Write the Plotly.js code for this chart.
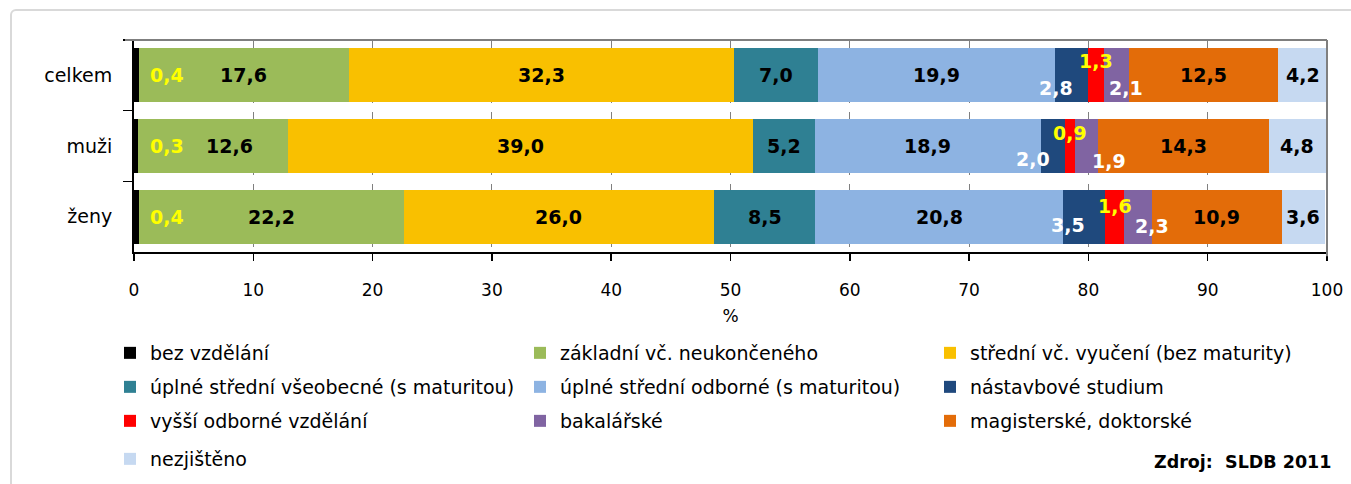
<!DOCTYPE html>
<html>
<head>
<meta charset="utf-8">
<script src="https://cdn.plot.ly/plotly-3.0.1.min.js"></script>
<style>
html,body{margin:0;background:#fff;overflow:hidden;}
#chart{position:absolute;left:0;top:0;width:1351px;height:520px;}
#frame{position:absolute;left:10px;top:9px;width:1400px;height:520px;border:2px solid #d9d9d9;border-radius:6px;pointer-events:none;}
</style>
</head>
<body>
<div id="chart"></div>
<div id="frame"></div>
<script>
// ---- data ----
const categories = ['celkem', 'muži', 'ženy'];
const seriesNames = [
  'bez vzdělání',
  'základní vč. neukončeného',
  'střední vč. vyučení (bez maturity)',
  'úplné střední všeobecné (s maturitou)',
  'úplné střední odborné (s maturitou)',
  'nástavbové studium',
  'vyšší odborné vzdělání',
  'bakalářské',
  'magisterské, doktorské',
  'nezjištěno'
];
const bezVzdelani   = [0.4, 0.3, 0.4];
const zakladni      = [17.6, 12.6, 22.2];
const stredniVyuc   = [32.3, 39.0, 26.0];
const uplneVseob    = [7.0, 5.2, 8.5];
const uplneOdborne  = [19.9, 18.9, 20.8];
const nastavbove    = [2.8, 2.0, 3.5];
const vyssiOdborne  = [1.3, 0.9, 1.6];
const bakalarske    = [2.1, 1.9, 2.3];
const magisterske   = [12.5, 14.3, 10.9];
const nezjisteno    = [4.2, 4.8, 3.6];
const xTicks = [0, 10, 20, 30, 40, 50, 60, 70, 80, 90, 100];
const sourceText = 'Zdroj:\u00a0 SLDB 2011';

const seriesValues = [bezVzdelani, zakladni, stredniVyuc, uplneVseob, uplneOdborne,
                      nastavbove, vyssiOdborne, bakalarske, magisterske, nezjisteno];

// ---- styles ----
const colors = ['#000000', '#9bbb59', '#f9c000', '#2f8093', '#8db3e2',
                '#1f497d', '#ff0000', '#8064a2', '#e36c09', '#c6d9f1'];
const labelColors = ['#ffff00', '#000000', '#000000', '#000000', '#000000',
                     '#ffffff', '#ffff00', '#ffffff', '#000000', '#000000'];
// label pixel offsets per series, per row
const labelDx = [[31,31,31],[0,17,0],[0,0,0],[0,0,0],[0,0,0],
                 [-16,-20,-16],[0,0,0],[10,22,14],[0,0,0],[0,0,0]];
const labelDy = [[0,0,0],[0,0,0],[0,0,0],[0,0,0],[0,0,0],
                 [-13,-13,-8],[14,13,11],[-13,-15,-9],[0,0,0],[0,0,0]];
const legendOf = ['legend','legend','legend','legend2','legend2','legend2',
                  'legend3','legend3','legend3','legend4'];

const FONT = 'DejaVu Sans, Verdana, sans-serif';

const traces = seriesNames.map((name, i) => ({
  type: 'bar',
  orientation: 'h',
  name: name,
  y: categories,
  x: seriesValues[i],
  marker: {color: colors[i], line: {width: 0}},
  legend: legendOf[i],
  hoverinfo: 'none'
}));

const plotW = 1193, plotH = 212, axisY = 252;

// value labels
const annotations = [];
categories.forEach((cat, r) => {
  let start = 0;
  seriesValues.forEach((vals, i) => {
    const v = vals[r];
    annotations.push({
      x: start + v / 2, y: cat, xref: 'x', yref: 'y',
      text: v.toFixed(1).replace('.', ','),
      showarrow: false,
      xshift: labelDx[i][r], yshift: labelDy[i][r],
      font: {family: FONT, size: 19, color: labelColors[i], weight: 'bold'}
    });
    start += v;
  });
});
annotations.push({
  xref: 'paper', yref: 'paper', x: 1.005, y: (axisY - 462) / plotH, xanchor: 'right', yanchor: 'middle',
  text: sourceText, showarrow: false,
  font: {family: FONT, size: 17.5, color: '#000', weight: 'bold'}
});

function legendCfg(ypx, xpx) {
  return {
    orientation: 'h', xanchor: 'left', yanchor: 'middle',
    x: (xpx - 134) / plotW, y: (axisY - ypx) / plotH,
    entrywidth: 365, entrywidthmode: 'pixels',
    font: {family: FONT, size: 19, color: '#000'},
    bgcolor: 'rgba(0,0,0,0)', traceorder: 'normal', itemclick: false
  };
}

const layout = {
  width: 1351, height: 520,
  margin: {l: 134, r: 24, t: 40, b: 520 - axisY, pad: 0},
  paper_bgcolor: 'rgba(0,0,0,0)', plot_bgcolor: 'rgba(0,0,0,0)',
  barmode: 'stack', bargap: 0.235,
  showlegend: true,
  legend: legendCfg(353, 110),
  legend2: legendCfg(387, 110),
  legend3: legendCfg(421, 110),
  legend4: legendCfg(459, 110),
  xaxis: {
    range: [0, 100], tickvals: xTicks, ticktext: xTicks.map(String),
    showgrid: true, gridcolor: '#808080', gridwidth: 1, griddash: 'dash',
    zeroline: false, showline: true, linecolor: '#000', linewidth: 1.5,
    ticks: 'outside', ticklen: 7, tickcolor: '#000', tickwidth: 1.5,
    ticklabelstandoff: 15,
    tickfont: {family: FONT, size: 17, color: '#000'},
    title: {text: '%', font: {family: FONT, size: 17, color: '#000'}, standoff: 11},
    fixedrange: true
  },
  yaxis: {
    type: 'category', categoryorder: 'array', categoryarray: categories,
    autorange: 'reversed',
    showgrid: false, zeroline: false, showline: true, linecolor: '#000', linewidth: 2,
    ticks: 'outside', tickson: 'boundaries', ticklen: 9, tickcolor: '#000', tickwidth: 1.5,
    ticklabelstandoff: 16,
    tickfont: {family: FONT, size: 19, color: '#000'},
    fixedrange: true
  },
  shapes: [
    {type: 'line', xref: 'paper', yref: 'paper', x0: -9 / plotW, x1: 1, y0: 1, y1: 1,
     line: {color: '#7f7f7f', width: 2}},
    {type: 'line', xref: 'paper', yref: 'paper', x0: 1, x1: 1, y0: -0.02, y1: 1,
     line: {color: '#7f7f7f', width: 2}}
  ],
  annotations: annotations
};

Plotly.newPlot('chart', traces, layout, {displayModeBar: false, staticPlot: true});
</script>
</body>
</html>
